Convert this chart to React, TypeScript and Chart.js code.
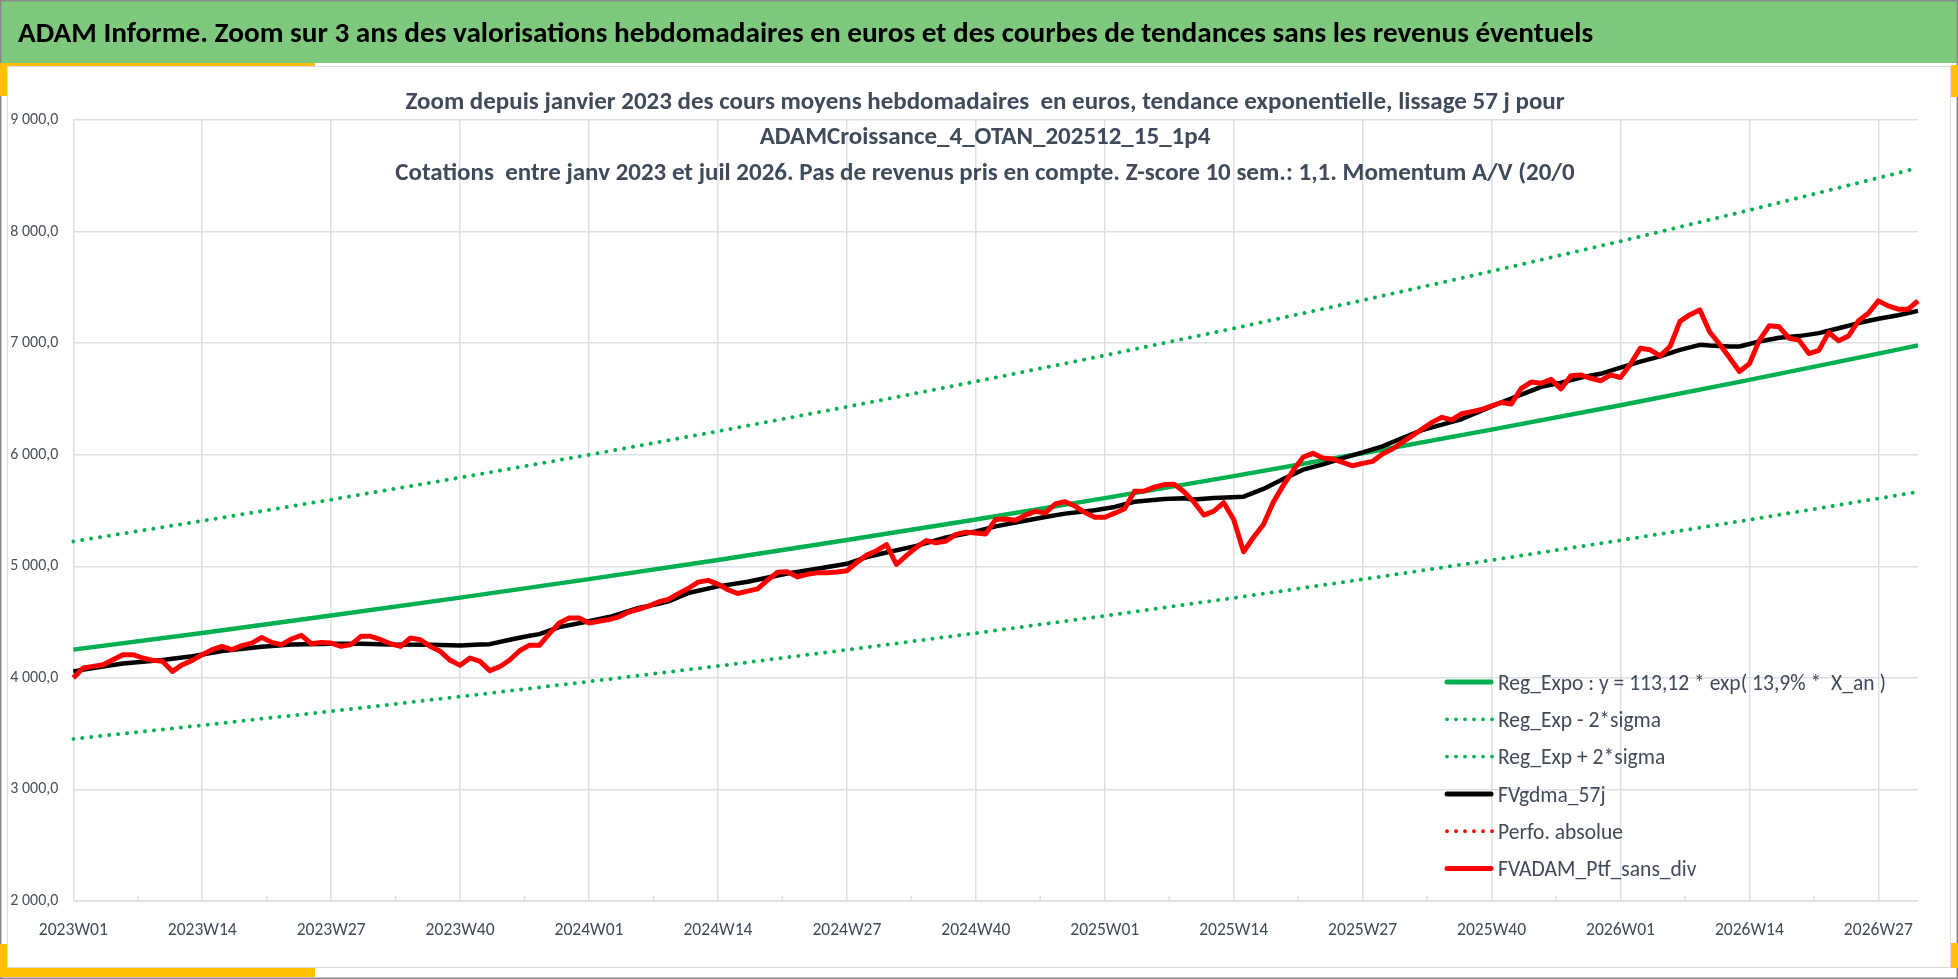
import React, { useEffect, useRef } from 'react';
import { Chart, registerables } from 'chart.js';

Chart.register(...registerables);

const W = 1958;
const H = 979;
const FAMILY = "Carlito, Lato, 'Open Sans', sans-serif";

// ---------- texts ----------
const TITLE =
  'ADAM Informe. Zoom sur 3 ans des valorisations hebdomadaires en euros et des courbes de tendances sans les revenus éventuels';
const SUBTITLE = [
  'Zoom depuis janvier 2023 des cours moyens hebdomadaires  en euros, tendance exponentielle, lissage 57 j pour',
  'ADAMCroissance_4_OTAN_202512_15_1p4',
  'Cotations  entre janv 2023 et juil 2026. Pas de revenus pris en compte. Z-score 10 sem.: 1,1. Momentum A/V (20/0',
];

// ---------- categories (ISO weeks) ----------
const YEAR_WEEKS: [number, number][] = [
  [2023, 52],
  [2024, 52],
  [2025, 52],
  [2026, 31],
];
const weekLabels: string[] = [];
for (const [yr, n] of YEAR_WEEKS) {
  for (let w = 1; w <= n; w++) weekLabels.push(`${yr}W${String(w).padStart(2, '0')}`);
}
const LABEL_EVERY = 13;

// ---------- series ----------
const LBL_REG = 'Reg_Expo : y = 113,12 * exp( 13,9% *  X_an )';
const LBL_MINUS = 'Reg_Exp - 2*sigma';
const LBL_PLUS = 'Reg_Exp + 2*sigma';
const LBL_GDMA = 'FVgdma_57j';
const LBL_PERFO = 'Perfo. absolue';
const LBL_PTF = 'FVADAM_Ptf_sans_div';

const trendWeeks = [0, 13, 26, 39, 52, 65, 78, 91, 104, 117, 130, 143, 156, 169, 182, 186];
const regExpo = [4253, 4403, 4558, 4719, 4885, 5057, 5235, 5420, 5611, 5808, 6013, 6225, 6444, 6671, 6906, 6980];
const regMinus2Sigma = [3453, 3575, 3701, 3832, 3967, 4106, 4251, 4401, 4556, 4716, 4883, 5055, 5233, 5417, 5608, 5668];
const regPlus2Sigma = [5223, 5407, 5597, 5795, 5999, 6210, 6429, 6656, 6890, 7132, 7384, 7644, 7913, 8192, 8481, 8571];

const gdmaWeeks = [
  0, 2, 5, 9, 12, 15, 19, 22, 26, 29, 32, 36, 39, 41, 42, 44, 46, 47, 49, 52, 54, 55, 57, 59, 60, 62, 65, 68, 72, 75,
  78, 80, 82, 85, 88, 91, 93, 95, 98, 100, 103, 105, 107, 110, 112, 113, 115, 118, 120, 122, 124, 126, 128, 130, 132,
  134, 136, 138, 140, 142, 144, 146, 148, 150, 152, 154, 156, 158, 160, 162, 164, 165, 167, 168, 170, 172, 174, 176,
  178, 180, 182, 184, 186,
];
const gdmaValues = [
  4058, 4088, 4128, 4160, 4193, 4240, 4278, 4298, 4306, 4306, 4298, 4296, 4289, 4300, 4302, 4342, 4378, 4392, 4455,
  4507, 4545, 4572, 4626, 4663, 4686, 4760, 4820, 4862, 4935, 4978, 5022, 5083, 5124, 5183, 5258, 5312, 5358, 5392,
  5442, 5472, 5503, 5532, 5578, 5604, 5610, 5598, 5612, 5624, 5693, 5782, 5866, 5913, 5970, 6021, 6075, 6150, 6220,
  6270, 6320, 6395, 6470, 6538, 6608, 6645, 6692, 6725, 6780, 6835, 6882, 6940, 6985, 6978, 6970, 6970, 7015, 7048,
  7063, 7090, 7134, 7180, 7218, 7250, 7289,
];

const ptfValues = [
  4000, 4088, 4103, 4118, 4163, 4208, 4208, 4178, 4157, 4148,
  4058, 4118, 4157, 4208, 4253, 4282, 4253, 4289, 4312, 4363,
  4318, 4298, 4348, 4381, 4306, 4318, 4312, 4282, 4298, 4372,
  4372, 4342, 4306, 4282, 4357, 4342, 4282, 4238, 4157, 4112,
  4178, 4148, 4065, 4100, 4160, 4243, 4293, 4292, 4396, 4492,
  4537, 4537, 4492, 4507, 4522, 4546, 4590, 4615, 4643, 4680,
  4703, 4755, 4801, 4858, 4874, 4840, 4790, 4756, 4777, 4797,
  4875, 4947, 4950, 4905, 4928, 4941, 4942, 4948, 4960, 5035,
  5100, 5140, 5195, 5016, 5095, 5170, 5230, 5211, 5227, 5286,
  5306, 5299, 5290, 5420, 5424, 5412, 5458, 5492, 5478, 5558,
  5579, 5540, 5482, 5439, 5440, 5476, 5515, 5672, 5675, 5710,
  5732, 5735, 5668, 5575, 5459, 5495, 5570, 5420, 5130, 5260,
  5375, 5575, 5725, 5858, 5978, 6012, 5970, 5961, 5931, 5901,
  5922, 5940, 6006, 6051, 6110, 6170, 6230, 6290, 6335, 6312,
  6368, 6386, 6405, 6438, 6468, 6455, 6595, 6651, 6640, 6675,
  6590, 6708, 6715, 6685, 6663, 6716, 6692, 6811, 6955, 6940,
  6886, 6970, 7195, 7255, 7298, 7100, 6990, 6870, 6746, 6815,
  7025, 7155, 7146, 7044, 7027, 6907, 6935, 7095, 7021, 7065,
  7200, 7268, 7379, 7334, 7304, 7304, 7379,
];
const perfoValues: number[] = [];

const Y_MIN = 2000;
const Y_MAX = 9000;
const Y_STEP = 1000;

const LEGEND_ORDER = [LBL_REG, LBL_MINUS, LBL_PLUS, LBL_GDMA, LBL_PERFO, LBL_PTF];

// ---------- colours ----------
const GREEN = '#00B050';
const RED = '#FF0000';
const BLACK = '#000000';
const GRID = '#dcdfe4';
const TEXT_DARK = '#3f4a5a';

const sparse = (weeks: number[], vals: number[]) => weeks.map((w, k) => ({ x: weekLabels[w], y: vals[k] }));

const fmtY = (v: number) => {
  const t = Math.floor(v / 1000);
  const r = Math.round(v % 1000);
  return `${t} ${String(r).padStart(3, '0')},0`;
};

function fitSize(text: string, weight: string, width: number): number {
  const c = document.createElement('canvas').getContext('2d') as CanvasRenderingContext2D;
  c.font = `${weight} 100px ${FAMILY}`;
  return (100 * width) / c.measureText(text).width;
}

function drawStretched(
  ctx: CanvasRenderingContext2D,
  text: string,
  x: number,
  centerY: number,
  size: number,
  capH: number,
  weight: string,
  color: string,
  align: CanvasTextAlign,
) {
  ctx.save();
  ctx.font = `${weight} ${size}px ${FAMILY}`;
  const cap = ctx.measureText('H').actualBoundingBoxAscent || size * 0.7;
  const sy = capH / cap;
  ctx.fillStyle = color;
  ctx.textBaseline = 'alphabetic';
  ctx.textAlign = align;
  ctx.translate(x, centerY + capH / 2);
  ctx.scale(1, sy);
  ctx.fillText(text, 0, 0);
  ctx.restore();
}

const decorPlugin = {
  id: 'decor',
  beforeDraw(chart: any) {
    const ctx: CanvasRenderingContext2D = chart.ctx;
    ctx.save();
    ctx.fillStyle = '#ffffff';
    ctx.fillRect(0, 0, W, H);
    // header band
    ctx.fillStyle = '#7ec97e';
    ctx.fillRect(0, 0, W, 63);
    // outer border
    ctx.strokeStyle = '#8a8a8a';
    ctx.lineWidth = 1.5;
    ctx.strokeRect(0.75, 0.75, W - 1.5, H - 1.5);
    // yellow accents
    ctx.fillStyle = '#FFC000';
    ctx.fillRect(0, 63, 315, 3);
    ctx.fillRect(0, 63, 7, 33);
    ctx.fillRect(0, 944, 7, 33);
    ctx.fillRect(0, 968, 315, 9);
    ctx.fillRect(1951, 65, 7, 32);
    ctx.fillRect(1951, 943, 7, 25);
    // white panel
    ctx.fillStyle = '#ffffff';
    ctx.fillRect(7, 66, 1944, 902);
    ctx.strokeStyle = '#d9d9d9';
    ctx.lineWidth = 1;
    ctx.strokeRect(7.5, 66.5, 1943, 901);
    ctx.restore();
    // header title
    const tSize = fitSize(TITLE, 'bold', 1576);
    drawStretched(ctx, TITLE, 18, 33, tSize, 18.7, 'bold', '#000000', 'left');
  },
  beforeDatasetsDraw(chart: any) {
    const ctx: CanvasRenderingContext2D = chart.ctx;
    const xs = chart.scales.x;
    const bottom = chart.chartArea.bottom;
    ctx.save();
    ctx.strokeStyle = GRID;
    ctx.lineWidth = 1.5;
    for (let k = 0; k * LABEL_EVERY + LABEL_EVERY / 2 < weekLabels.length - 1; k++) {
      const px = xs.getPixelForValue(k * LABEL_EVERY + LABEL_EVERY / 2);
      ctx.beginPath();
      ctx.moveTo(px, bottom - 5);
      ctx.lineTo(px, bottom);
      ctx.stroke();
    }
    ctx.restore();
  },
  afterDraw(chart: any) {
    const ctx: CanvasRenderingContext2D = chart.ctx;
    // subtitle
    const sSize = fitSize(SUBTITLE[2], 'bold', 1180);
    const subY = [101, 136.5, 172];
    SUBTITLE.forEach((line, k) => drawStretched(ctx, line, 985, subY[k], sSize, 15.8, 'bold', TEXT_DARK, 'center'));
    // legend
    const lSize = fitSize(LBL_REG, 'normal', 388);
    LEGEND_ORDER.forEach((name, k) => {
      const ds = chart.data.datasets.find((d: any) => d.label === name);
      if (!ds) return;
      const y = 682 + k * 37.3;
      ctx.save();
      ctx.strokeStyle = ds.borderColor;
      ctx.lineCap = 'round';
      ctx.beginPath();
      if (ds.borderDash && ds.borderDash.length) {
        ctx.lineWidth = 3.8;
        ctx.setLineDash([0.01, 9]);
        ctx.moveTo(1447, y);
        ctx.lineTo(1493, y);
      } else {
        ctx.lineWidth = 5;
        ctx.moveTo(1447, y);
        ctx.lineTo(1491, y);
      }
      ctx.stroke();
      ctx.restore();
      drawStretched(ctx, name, 1498, y, lSize, 15.3, 'normal', TEXT_DARK, 'left');
    });
  },
};

export default function App() {
  const ref = useRef<HTMLCanvasElement | null>(null);

  useEffect(() => {
    const canvas = ref.current;
    if (!canvas) return;
    const xFont = fitSize('2023W01', 'normal', 69);
    const yFont = fitSize('9 000,0', 'normal', 48);

    const dotted = { borderWidth: 4, borderDash: [0.01, 9], borderCapStyle: 'round' as const };

    const chart = new Chart(canvas, {
      type: 'line',
      data: {
        labels: weekLabels,
        datasets: [
          { label: LBL_PTF, data: ptfValues, borderColor: RED, borderWidth: 5, order: 0 },
          { label: LBL_PERFO, data: perfoValues, borderColor: RED, ...dotted, order: 1 },
          { label: LBL_GDMA, data: sparse(gdmaWeeks, gdmaValues) as any, borderColor: BLACK, borderWidth: 4.5, order: 2 },
          { label: LBL_REG, data: sparse(trendWeeks, regExpo) as any, borderColor: GREEN, borderWidth: 4.5, order: 3 },
          { label: LBL_MINUS, data: sparse(trendWeeks, regMinus2Sigma) as any, borderColor: GREEN, ...dotted, order: 4 },
          { label: LBL_PLUS, data: sparse(trendWeeks, regPlus2Sigma) as any, borderColor: GREEN, ...dotted, order: 5 },
        ],
      },
      options: {
        animation: false,
        responsive: false,
        devicePixelRatio: 1,
        layout: { padding: { top: 120, right: 40, left: 0, bottom: 0 } },
        elements: {
          point: { radius: 0, hoverRadius: 0 },
          line: { tension: 0, fill: false, borderJoinStyle: 'round' },
        },
        plugins: {
          legend: { display: false },
          title: { display: false },
          tooltip: { enabled: false },
        },
        events: [],
        scales: {
          x: {
            type: 'category',
            offset: false,
            grid: { color: GRID, lineWidth: 1.5, drawTicks: false },
            border: { display: true, color: GRID, width: 1.5 },
            ticks: {
              autoSkip: false,
              maxRotation: 0,
              minRotation: 0,
              padding: 19,
              color: '#404b59',
              font: { family: FAMILY, size: xFont },
            },
            afterBuildTicks: (axis: any) => {
              axis.ticks = axis.ticks.filter((t: any) => t.value % LABEL_EVERY === 0);
            },
            afterFit: (axis: any) => {
              axis.height = H - 901;
            },
          },
          y: {
            min: Y_MIN,
            max: Y_MAX,
            grid: { color: GRID, lineWidth: 1.5, drawTicks: false },
            border: { display: false },
            ticks: {
              stepSize: Y_STEP,
              padding: 15,
              color: '#4b5059',
              font: { family: FAMILY, size: yFont },
              callback: (v: any) => fmtY(Number(v)),
            },
            afterFit: (axis: any) => {
              axis.width = 73.3;
            },
          },
        },
      },
      plugins: [decorPlugin],
    });
    return () => chart.destroy();
  }, []);

  return (
    <div style={{ width: W, height: H, position: 'relative' }}>
      <style>{'body{margin:0;}'}</style>
      <canvas ref={ref} width={W} height={H} style={{ display: 'block', width: W, height: H }} />
    </div>
  );
}
